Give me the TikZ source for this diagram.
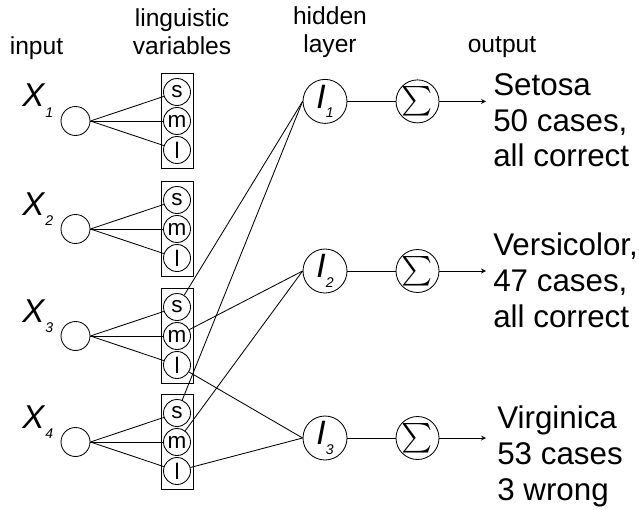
\documentclass[tikz,border=0pt]{standalone}
\usepackage{amsmath}
\usepackage{graphicx}
\usepackage{fontspec}
\setmainfont{Liberation Sans}
\usepackage{tikz}
\tikzstyle{inp}=[circle,draw,semithick,minimum size=0.725cm,inner sep=0pt]
\tikzstyle{lbox}=[rectangle,draw,semithick,minimum width=0.8cm,minimum height=2.36cm]
\tikzstyle{fuzzy}=[circle,draw,semithick,minimum size=0.675cm,inner sep=0pt,font=\fontsize{16}{16}\selectfont]
\tikzstyle{hid}=[circle,draw,semithick,minimum size=1.1cm,inner sep=0pt]
\tikzstyle{summ}=[circle,draw,semithick,minimum size=1.075cm,inner sep=0pt]
\tikzstyle{head}=[align=center,anchor=base,inner sep=0pt,font=\fontsize{17.5}{20}\selectfont]
\tikzstyle{res}=[align=left,anchor=base west,inner sep=0pt,font=\fontsize{22.3}{25.3}\selectfont]
\tikzstyle{conn}=[semithick]
\tikzstyle{arr}=[semithick,->,>=stealth]
\newcommand{\xlab}[1]{\fontsize{23.5}{24}\selectfont\textit{X}\raisebox{-7.8pt}{\fontsize{10}{10}\selectfont\textit{#1}}}
\newcommand{\ilab}[1]{\fontsize{24}{24}\selectfont\textit{I}\raisebox{-7pt}{\fontsize{10}{10}\selectfont\textit{#1}}}
\newcommand{\bigsum}{\scalebox{2.1}{$\sum$}}

\begin{document}
\begin{tikzpicture}
    \useasboundingbox (0,0) rectangle (15.975,12.725);
    % column titles
    \node[head] (tin) at (0.9125,11.35) {input};
    \node[head] (tling) at (4.55,11.35) {linguistic\\variables};
    \node[head] (thid) at (8.25,11.4) {hidden\\layer};
    \node[head] (tout) at (12.55,11.4) {output};

    % inputs and their linguistic variables
    \foreach \i/\y in {1/9.7, 2/7.0, 3/4.325, 4/1.675} {
        \node[inp] (x\i) at (1.8875,\y) {};
        \node[anchor=base west,inner sep=0pt] (lx\i) at (0.55,\y+0.35) {\xlab{\i}};
        \node[lbox] (v\i) at (4.425,\y) {};
        \node[fuzzy] (v\i-s) at (4.425,\y+0.725) {s};
        \node[fuzzy] (v\i-m) at (4.425,\y) {m};
        \node[fuzzy] (v\i-l) at (4.425,\y-0.725) {l};
        \draw[conn] (x\i.east) -- (v\i-s);
        \draw[conn] (x\i.east) -- (v\i-m);
        \draw[conn] (x\i.east) -- (v\i-l);
    }

    % hidden layer and sums
    \node[hid] (h1) at (8.125,10.19) {\ilab{1}};
    \node[hid] (h2) at (8.125,5.95) {\ilab{2}};
    \node[hid] (h3) at (8.125,1.775) {\ilab{3}};
    \node[summ] (s1) at (10.4375,10.19) {\bigsum};
    \node[summ] (s2) at (10.4375,5.95) {\bigsum};
    \node[summ] (s3) at (10.4375,1.775) {\bigsum};

    \draw[conn] (v3-s) -- (h1.west);
    \draw[conn] (v4-s) -- (h1.west);
    \draw[conn] (v3-m) -- (h2.west);
    \draw[conn] (v4-m) -- (h2.west);
    \draw[conn] (v3-l) -- (h3.west);
    \draw[conn] (v4-l) -- (h3.west);

    \draw[conn] (h1) -- (s1);
    \draw[conn] (h2) -- (s2);
    \draw[conn] (h3) -- (s3);

    % outputs
    \coordinate (e1) at (12.15,10.19);
    \coordinate (e2) at (12.15,5.95);
    \coordinate (e3) at (12.15,1.775);
    \draw[arr] (s1) -- (e1);
    \draw[arr] (s2) -- (e2);
    \draw[arr] (s3) -- (e3);

    \node[res] (o1) at (12.325,8.55) {Setosa\\50 cases,\\all correct};
    \node[res] (o2) at (12.325,4.55) {Versicolor,\\47 cases,\\all correct};
    \node[res] (o3) at (12.425,0.225) {Virginica\\53 cases\\3 wrong};
\end{tikzpicture}
\end{document}
